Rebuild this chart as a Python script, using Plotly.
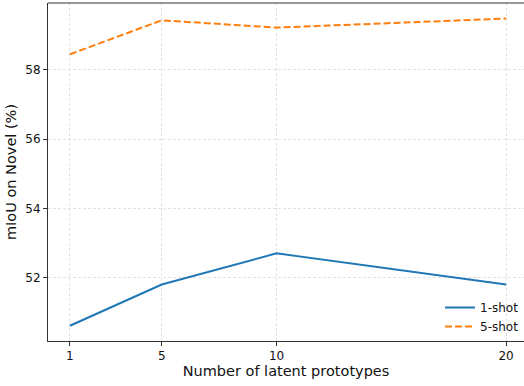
import plotly.graph_objects as go

x_vals = [1, 5, 10, 20]
one_shot = [50.61, 51.80, 52.70, 51.80]
five_shot = [58.45, 59.43, 59.22, 59.48]
x_ticks = [1, 5, 10, 20]
y_ticks = [52, 54, 56, 58]

font = "DejaVu Sans"
fig = go.Figure()
fig.add_trace(go.Scatter(x=x_vals, y=one_shot, mode="lines", name="1-shot",
                         line=dict(color="#1f77b4", width=2)))
fig.add_trace(go.Scatter(x=x_vals, y=five_shot, mode="lines", name="5-shot",
                         line=dict(color="#ff7f0e", width=2, dash="7px,3px")))

grid = dict(showgrid=True, gridcolor="#e2e2e2", griddash="3px,2px", gridwidth=0.8)
fig.update_layout(
    width=524, height=386,
    margin=dict(l=48, r=0, t=3, b=45),
    plot_bgcolor="white", paper_bgcolor="white",
    font=dict(family=font, size=12, color="#111"),
    showlegend=True,
    legend=dict(x=1.0, y=0.0, xanchor="right", yanchor="bottom",
                bgcolor="rgba(0,0,0,0)", font=dict(size=12, color="#111"),
                itemwidth=30, tracegroupgap=0),
    xaxis=dict(range=[0.045, 20.78], tickvals=x_ticks, ticks="outside", ticklen=4,
               tickcolor="#333", showline=True, linecolor="#333", linewidth=1,
               zeroline=False, **grid,
               title=dict(text="Number of latent prototypes", font=dict(size=14.5, color="#111"),
                          standoff=3),
               tickfont=dict(size=12, color="#111")),
    yaxis=dict(range=[50.17, 59.93], tickvals=y_ticks, ticks="outside", ticklen=4,
               tickcolor="#333", showline=True, linecolor="#333", linewidth=1,
               zeroline=False, **grid,
               title=dict(text="mIoU on Novel (%)", font=dict(size=14.5, color="#111"),
                          standoff=5),
               tickfont=dict(size=12, color="#111")),
)
fig.add_shape(type="line", xref="paper", yref="paper", x0=0, x1=1, y0=1, y1=1,
              line=dict(color="#333", width=1))
fig.write_html("out.html", config={"displayModeBar": False},
               post_script="document.body.style.margin='0';document.body.style.overflow='hidden';")
